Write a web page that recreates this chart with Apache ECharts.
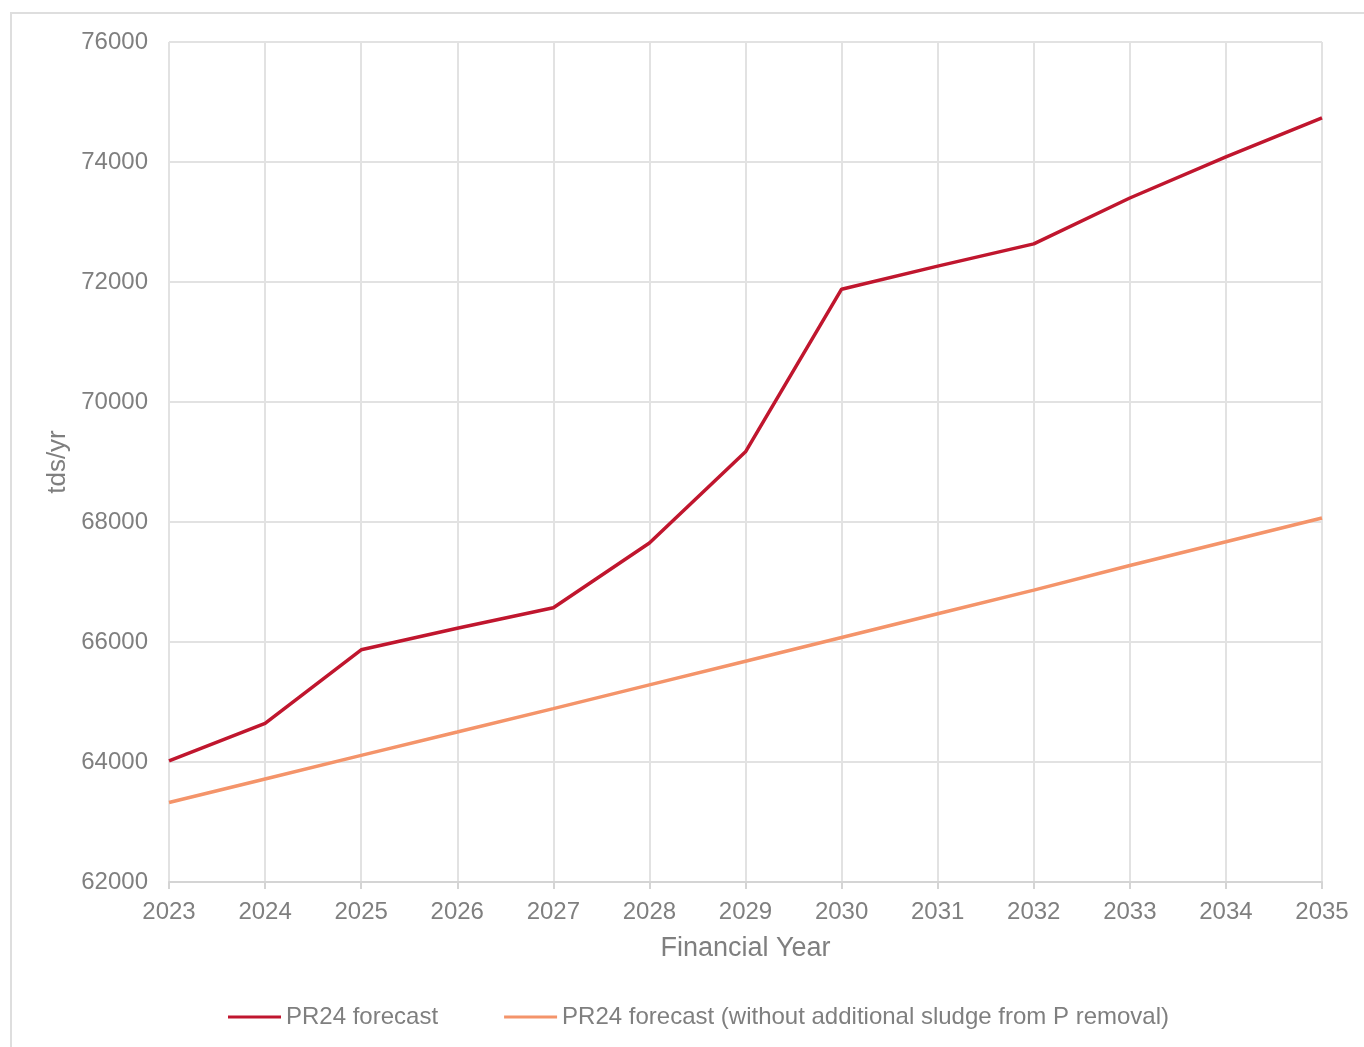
<!DOCTYPE html>
<html>
<head>
<meta charset="utf-8">
<script src="https://cdn.jsdelivr.net/npm/echarts@6/dist/echarts.min.js"></script>
<style>
html,body{margin:0;padding:0;background:#fff;}
#frame{position:absolute;left:10px;top:12px;width:1400px;height:1100px;border:2px solid #dedede;box-sizing:border-box;}
#chart{position:absolute;left:0;top:0;width:1364px;height:1047px;}
</style>
</head>
<body>
<div id="frame"></div>
<div id="chart"></div>
<script>
const years = ['2023','2024','2025','2026','2027','2028','2029','2030','2031','2032','2033','2034','2035'];
const pr24Forecast = [64020, 64645, 65870, 66230, 66570, 67650, 69170, 71880, 72265, 72635, 73400, 74085, 74735];
const pr24NoPRemoval = [63325, 63717, 64111, 64500, 64890, 65285, 65680, 66075, 66470, 66865, 67275, 67670, 68067];
const yTicks = [62000, 76000, 2000];

const textColor = '#7f7f7f';
const font = 'Liberation Sans, Arial, sans-serif';
const chart = echarts.init(document.getElementById('chart'), null, {renderer: 'canvas'});
chart.setOption({
  backgroundColor: 'transparent',
  animation: false,
  grid: {left: 169, right: 42, top: 42, bottom: 165, containLabel: false},
  legend: {
    left: 223, top: 1000,
    icon: 'rect', itemWidth: 53, itemHeight: 3, itemGap: 66,
    textStyle: {color: textColor, fontSize: 24, fontFamily: font},
    data: ['PR24 forecast', 'PR24 forecast (without additional sludge from P removal)']
  },
  xAxis: {
    type: 'category', data: years, boundaryGap: false,
    name: 'Financial Year', nameLocation: 'middle', nameGap: 53,
    nameTextStyle: {color: textColor, fontSize: 27, fontFamily: font},
    axisLine: {show: true, lineStyle: {color: '#d4d4d4', width: 2}},
    axisTick: {show: true, length: 7, lineStyle: {color: '#d4d4d4', width: 2}},
    axisLabel: {color: textColor, fontSize: 24, fontFamily: font, margin: 18},
    splitLine: {show: true, lineStyle: {color: '#e2e2e2', width: 2}}
  },
  yAxis: {
    type: 'value', min: yTicks[0], max: yTicks[1], interval: yTicks[2],
    name: 'tds/yr', nameLocation: 'middle', nameGap: 96, nameRotate: 90,
    nameTextStyle: {color: textColor, fontSize: 26, fontFamily: font},
    axisLine: {show: false}, axisTick: {show: false},
    axisLabel: {color: textColor, fontSize: 24, fontFamily: font, margin: 21, formatter: v => String(v)},
    splitLine: {show: true, lineStyle: {color: '#e2e2e2', width: 2}}
  },
  series: [
    {name: 'PR24 forecast', type: 'line', data: pr24Forecast, showSymbol: false, symbol: 'none',
     lineStyle: {color: '#c0162e', width: 3.5}, itemStyle: {color: '#c0162e'}},
    {name: 'PR24 forecast (without additional sludge from P removal)', type: 'line', data: pr24NoPRemoval, showSymbol: false, symbol: 'none',
     lineStyle: {color: '#f4946a', width: 3.5}, itemStyle: {color: '#f4946a'}}
  ]
});
</script>
</body>
</html>
